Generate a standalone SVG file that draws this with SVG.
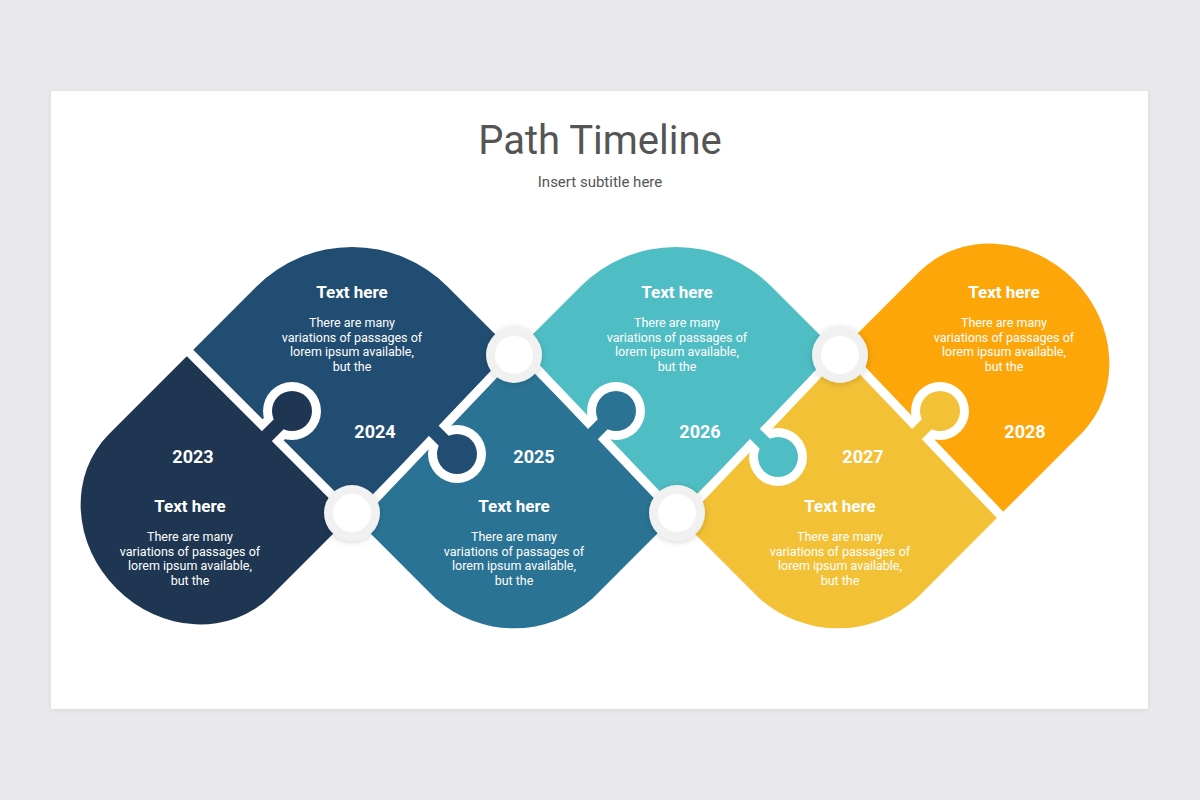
<svg xmlns="http://www.w3.org/2000/svg" width="1200" height="800" viewBox="0 0 1200 800">
<defs>
<filter id="sh" x="-50%" y="-50%" width="200%" height="200%"><feDropShadow dx="0" dy="1" stdDeviation="3" flood-color="#000" flood-opacity="0.18"/></filter>
<filter id="card" x="-5%" y="-5%" width="110%" height="110%"><feDropShadow dx="0" dy="1" stdDeviation="2" flood-color="#000" flood-opacity="0.08"/></filter>
</defs>
<style>
text{font-family:Roboto,"Liberation Sans",sans-serif;text-anchor:middle;fill:#fff}
.h{font-size:17px;font-weight:bold}
.y{font-size:18px;font-weight:bold}
.b{font-size:12.5px}
.seam{stroke:#fff;stroke-width:9;fill:none}
.ring{fill:#f1f1f1;filter:url(#sh)}
.hole{fill:#fff}
</style>
<rect width="1200" height="800" fill="#e9e8ea"/>
<rect x="51" y="91" width="1097" height="618" fill="#fff" filter="url(#card)"/>
<text x="600" y="154" style="font-size:40px;fill:#555">Path Timeline</text>
<text x="600" y="187" style="font-size:15px;fill:#555">Insert subtitle here</text>

<g id="p2023"><path transform="translate(190,515) rotate(45)" fill="#1e3652" d="M -114.5,-114.5 L 114.5,-114.5 L 114.5,0 A 114.5 104 0 0 1 -114.5,0 Z"/></g>
<g id="p2024"><path transform="translate(352,353) rotate(45)" fill="#224d72" d="M -114.5,20.5 A 135 135 0 0 1 20.5,-114.5 L 114.5,-114.5 L 114.5,114.5 L -114.5,114.5 Z"/></g>
<g id="p2025"><path transform="translate(514,515) rotate(45)" fill="#2a7394" d="M -114.5,-114.5 L 114.5,-114.5 L 114.5,3.5 A 118 118 0 0 1 3.5,114.5 L -114.5,114.5 Z"/></g>
<g id="p2026"><path transform="translate(676,353) rotate(45)" fill="#4fbdc4" d="M -114.5,20.5 A 135 135 0 0 1 20.5,-114.5 L 114.5,-114.5 L 114.5,114.5 L -114.5,114.5 Z"/></g>
<g id="p2027"><path transform="translate(838,515) rotate(45)" fill="#f3c136" d="M -114.5,-114.5 L 114.5,-114.5 L 114.5,3.5 A 118 118 0 0 1 3.5,114.5 L -114.5,114.5 Z"/></g>
<g id="p2028"><path transform="translate(1000,353) rotate(45)" fill="#fca60a" d="M -114.5,114.5 L -114.5,0 A 114.5 104 0 0 1 114.5,0 L 114.5,114.5 Z"/></g>

<g id="connectors">
<path class="seam" d="M186,349 L356,519 L518,349 L680,519 L842,349 L1004,519"/>
<line x1="270" y1="433" x2="292" y2="411" stroke="#fff" stroke-width="30"/>
<circle cx="292" cy="411" r="29" fill="#fff"/>
<circle cx="292" cy="411" r="20" fill="#1e3652"/>
<line x1="265" y1="438" x2="292" y2="411" stroke="#1e3652" stroke-width="14"/>

<line x1="435" y1="432" x2="457" y2="454" stroke="#fff" stroke-width="30"/>
<circle cx="457" cy="454" r="29" fill="#fff"/>
<circle cx="457" cy="454" r="20" fill="#224d72"/>
<line x1="430" y1="427" x2="457" y2="454" stroke="#224d72" stroke-width="14"/>

<line x1="594" y1="433" x2="616" y2="411" stroke="#fff" stroke-width="30"/>
<circle cx="616" cy="411" r="29" fill="#fff"/>
<circle cx="616" cy="411" r="20" fill="#2a7394"/>
<line x1="589" y1="438" x2="616" y2="411" stroke="#2a7394" stroke-width="14"/>

<line x1="756" y1="435" x2="778" y2="457" stroke="#fff" stroke-width="30"/>
<circle cx="778" cy="457" r="29" fill="#fff"/>
<circle cx="778" cy="457" r="20" fill="#4fbdc4"/>
<line x1="751" y1="430" x2="778" y2="457" stroke="#4fbdc4" stroke-width="14"/>

<line x1="918" y1="433" x2="940" y2="411" stroke="#fff" stroke-width="30"/>
<circle cx="940" cy="411" r="29" fill="#fff"/>
<circle cx="940" cy="411" r="20" fill="#f3c136"/>
<line x1="913" y1="438" x2="940" y2="411" stroke="#f3c136" stroke-width="14"/>

<circle class="ring" cx="514" cy="355" r="28"/><circle class="hole" cx="514" cy="355" r="19"/>
<circle class="ring" cx="352" cy="513" r="28"/><circle class="hole" cx="352" cy="513" r="19"/>
<circle class="ring" cx="677" cy="513" r="28"/><circle class="hole" cx="677" cy="513" r="19"/>
<circle class="ring" cx="840" cy="355" r="28"/><circle class="hole" cx="840" cy="355" r="19"/>
</g>

<g id="t2024"><text class="h" x="352" y="298">Text here</text>
<text class="b" x="352" y="327">There are many</text><text class="b" x="352" y="342">variations of passages of</text><text class="b" x="352" y="356">lorem ipsum available,</text><text class="b" x="352" y="371">but the</text>
<text class="y" x="375" y="438">2024</text></g>
<g id="t2026"><text class="h" x="677" y="298">Text here</text>
<text class="b" x="677" y="327">There are many</text><text class="b" x="677" y="342">variations of passages of</text><text class="b" x="677" y="356">lorem ipsum available,</text><text class="b" x="677" y="371">but the</text>
<text class="y" x="700" y="438">2026</text></g>
<g id="t2028"><text class="h" x="1004" y="298">Text here</text>
<text class="b" x="1004" y="327">There are many</text><text class="b" x="1004" y="342">variations of passages of</text><text class="b" x="1004" y="356">lorem ipsum available,</text><text class="b" x="1004" y="371">but the</text>
<text class="y" x="1025" y="438">2028</text></g>
<g id="t2023"><text class="y" x="193" y="463">2023</text><text class="h" x="190" y="512">Text here</text>
<text class="b" x="190" y="541">There are many</text><text class="b" x="190" y="556">variations of passages of</text><text class="b" x="190" y="570">lorem ipsum available,</text><text class="b" x="190" y="585">but the</text></g>
<g id="t2025"><text class="y" x="534" y="463">2025</text><text class="h" x="514" y="512">Text here</text>
<text class="b" x="514" y="541">There are many</text><text class="b" x="514" y="556">variations of passages of</text><text class="b" x="514" y="570">lorem ipsum available,</text><text class="b" x="514" y="585">but the</text></g>
<g id="t2027"><text class="y" x="863" y="463">2027</text><text class="h" x="840" y="512">Text here</text>
<text class="b" x="840" y="541">There are many</text><text class="b" x="840" y="556">variations of passages of</text><text class="b" x="840" y="570">lorem ipsum available,</text><text class="b" x="840" y="585">but the</text></g>
</svg>
